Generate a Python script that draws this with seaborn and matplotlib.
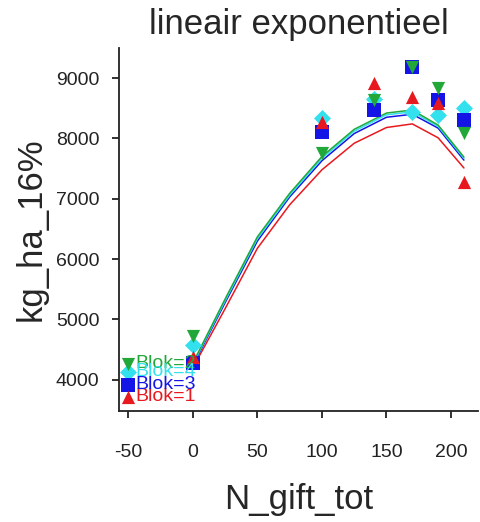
import pandas as pd
import matplotlib
matplotlib.use('Agg')
import matplotlib.pyplot as plt
import seaborn as sns

blocks = ['Blok=1', 'Blok=2', 'Blok=3', 'Blok=4']
n_levels = [-50, 0, 100, 140, 170, 190, 210]
yield_blok1 = [3720, 4380, 8270, 8910, 8680, 8590, 7280]
yield_blok2 = [4265, 4730, 7750, 8630, 9180, 8830, 8090]
yield_blok3 = [3920, 4280, 8100, 8470, 9180, 8630, 8310]
yield_blok4 = [4130, 4580, 8340, 8650, 8430, 8380, 8510]

# fitted curves per block
curve_n = [0, 25, 50, 75, 100, 125, 150, 170, 190, 210]
curve_blok1 = [4200, 5180, 6180, 6900, 7480, 7920, 8180, 8240, 8010, 7510]
curve_blok2 = [4280, 5340, 6370, 7090, 7700, 8150, 8420, 8470, 8220, 7690]
curve_blok3 = [4240, 5280, 6300, 7030, 7630, 8080, 8350, 8400, 8170, 7640]
curve_blok4 = [4260, 5310, 6340, 7060, 7670, 8120, 8390, 8440, 8200, 7670]

colors = {'Blok=1': '#E8191E', 'Blok=2': '#22A838', 'Blok=3': '#1414E6', 'Blok=4': '#33E0EE'}
markers = {'Blok=1': '^', 'Blok=2': 'v', 'Blok=3': 's', 'Blok=4': 'D'}

obs = pd.DataFrame({
    'N_gift_tot': n_levels * 4,
    'kg_ha_16%': yield_blok1 + yield_blok2 + yield_blok3 + yield_blok4,
    'Blok': sum([[b] * len(n_levels) for b in blocks], []),
})
fit = pd.DataFrame({
    'N_gift_tot': curve_n * 4,
    'kg_ha_16%': curve_blok1 + curve_blok2 + curve_blok3 + curve_blok4,
    'Blok': sum([[b] * len(curve_n) for b in blocks], []),
})

sns.set_style('white')
plt.rcParams['font.family'] = ['Liberation Sans', 'DejaVu Sans']
plt.rcParams['axes.unicode_minus'] = False

fig = plt.figure(figsize=(4.81, 5.22), dpi=100)
ax = fig.add_axes([0.247, 0.213, 0.747, 0.695])

sns.lineplot(data=fit, x='N_gift_tot', y='kg_ha_16%', hue='Blok', palette=colors,
             hue_order=['Blok=1', 'Blok=3', 'Blok=4', 'Blok=2'],
             linewidth=1.1, legend=False, ax=ax)

# draw groups one by one so the overlap order matches
for b in ['Blok=4', 'Blok=3', 'Blok=1', 'Blok=2']:
    sub = obs[obs['Blok'] == b]
    sns.scatterplot(data=sub, x='N_gift_tot', y='kg_ha_16%', color=colors[b],
                    marker=markers[b], s=90 if b != 'Blok=4' else 75, linewidth=0,
                    legend=False, ax=ax, zorder=3)

# block labels next to the first point
for b, yy in zip(blocks, [yield_blok1[0], yield_blok2[0], yield_blok3[0], yield_blok4[0]]):
    ax.annotate(b, (n_levels[0], yy), xytext=(5, 0), textcoords='offset points',
                color=colors[b], fontsize=14, va='center', ha='left', zorder=4)

ax.set_xlim(-57.4, 221)
ax.set_ylim(3487, 9497)
ax.set_xticks([-50, 0, 50, 100, 150, 200])
ax.set_yticks([4000, 5000, 6000, 7000, 8000, 9000])
ax.tick_params(bottom=True, left=True, direction='out', length=5, width=1.3,
               colors='#222222', labelsize=14, labelcolor='#222222')
ax.tick_params(axis='x', pad=19)
ax.tick_params(axis='y', pad=9)
for s in ['top', 'right']:
    ax.spines[s].set_visible(False)
for s in ['left', 'bottom']:
    ax.spines[s].set_color('#222222')
    ax.spines[s].set_linewidth(1.3)

ax.set_title('lineair exponentieel', fontsize=25, pad=10)
ax.set_xlabel('N_gift_tot', fontsize=25, labelpad=16)
ax.set_ylabel('kg_ha_16%', fontsize=25, labelpad=6)

fig.savefig('out.png', dpi=100)
